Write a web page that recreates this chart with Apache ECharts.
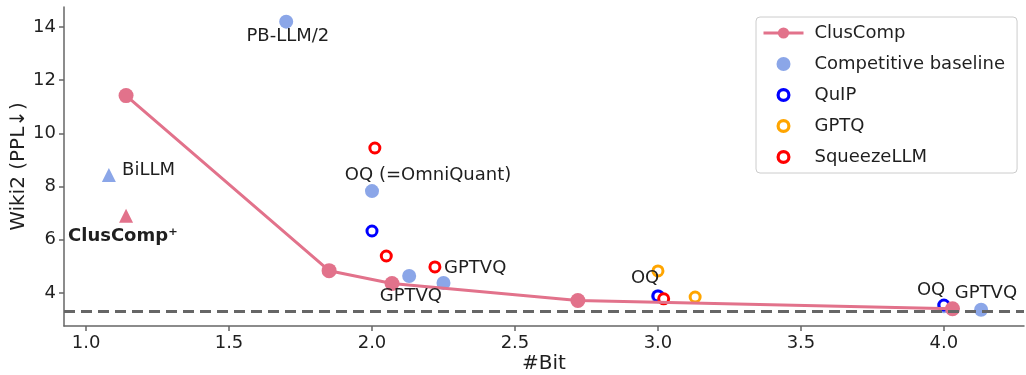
<!DOCTYPE html>
<html>
<head>
<meta charset="utf-8">
<script src="https://cdn.jsdelivr.net/npm/echarts@6/dist/echarts.min.js"></script>
<style>
  html, body { margin: 0; padding: 0; background: #ffffff; }
  #chart { width: 1026px; height: 375px; }
</style>
</head>
<body>
<div id="chart"></div>
<script>
// Bits per weight vs. WikiText-2 perplexity
const clusCompBits = [1.14, 1.85, 2.07, 2.72, 4.03];
const clusCompPpl  = [11.42, 4.84, 4.36, 3.72, 3.41];

const baselineBits = [1.70, 2.00, 2.13, 2.25, 3.00, 4.00, 4.13];
const baselinePpl  = [14.20, 7.83, 4.64, 4.38, 3.88, 3.50, 3.37];

const quipBits = [2.00, 3.00, 4.00];
const quipPpl  = [6.33, 3.89, 3.55];

const gptqBits = [3.00, 3.13];
const gptqPpl  = [4.83, 3.85];

const squeezeBits = [2.01, 2.05, 2.22, 3.02];
const squeezePpl  = [9.45, 5.39, 4.98, 3.78];

const billmPoint        = [1.08, 8.44];
const clusCompPlusPoint = [1.14, 6.90];

const fp16Ppl = 3.32;

const xTickValues = [1.0, 1.5, 2.0, 2.5, 3.0, 3.5, 4.0];
const yTickValues = [4, 6, 8, 10, 12, 14];

// method name, anchor bit, anchor ppl, alignment
const annotationText  = ['PB-LLM/2', 'BiLLM', 'ClusComp\u207A', 'OQ (=OmniQuant)', 'GPTVQ', 'GPTVQ', 'OQ', 'OQ', 'GPTVQ'];
const annotationBits  = [1.706, 1.126, 0.937, 2.196, 2.252, 2.136, 2.955, 3.955, 4.147];
const annotationPpl   = [13.66, 8.62, 6.14, 8.44, 4.94, 3.89, 4.56, 4.11, 4.00];
const annotationAlign = ['center', 'left', 'left', 'center', 'left', 'center', 'center', 'center', 'center'];
const annotationBold  = [false, false, true, false, false, false, false, false, false];

const PINK = '#e2728b';
const LIGHT_BLUE = '#8ba6e8';
const TEXT = '#1f1f1f';
const AXIS = '#666666';
const FONT = 'DejaVu Sans';

const zip = (xs, ys) => xs.map((x, i) => [x, ys[i]]);

// hollow ring marker: white fill, thick coloured edge
const ringIcon = 'path://M7,0 A7,7 0 1 1 6.99,0 Z M7,3.2 A3.8,3.8 0 1 0 7.01,3.2 Z';

const chart = echarts.init(document.getElementById('chart'), null, { renderer: 'canvas' });

const ringSeries = (name, xs, ys, color) => ({
  name: name,
  type: 'scatter',
  symbol: 'circle',
  symbolSize: 10,
  itemStyle: { color: '#ffffff', borderColor: color, borderWidth: 3, opacity: 1 },
  data: zip(xs, ys),
  z: 3
});

chart.setOption({
  animation: false,
  backgroundColor: '#ffffff',
  textStyle: { fontFamily: FONT },
  grid: { left: 64, right: 2, top: 7, bottom: 49, containLabel: false, outerBoundsMode: 'none' },
  xAxis: {
    type: 'value',
    min: 0.923,
    max: 4.28,
    name: '#Bit',
    nameLocation: 'middle',
    nameGap: 28,
    nameMoveOverlap: false,
    nameTextStyle: { fontSize: 20, color: TEXT, fontFamily: FONT },
    splitLine: { show: false },
    axisLine: { onZero: false, lineStyle: { color: AXIS, width: 1.5 } },
    axisTick: { show: true, length: 5, customValues: xTickValues, lineStyle: { color: AXIS, width: 1.5 } },
    axisLabel: { customValues: xTickValues, fontSize: 18, color: TEXT, margin: 8, fontFamily: FONT,
                 formatter: (v) => v.toFixed(1) }
  },
  yAxis: {
    type: 'value',
    min: 2.76,
    max: 14.75,
    name: 'Wiki2 (PPL\u2193)',
    nameLocation: 'middle',
    nameGap: 35,
    nameMoveOverlap: false,
    nameTextStyle: { fontSize: 20, color: TEXT, fontFamily: FONT },
    splitLine: { show: false },
    axisLine: { show: true, onZero: false, lineStyle: { color: AXIS, width: 1.5 } },
    axisTick: { show: true, length: 5, customValues: yTickValues, lineStyle: { color: AXIS, width: 1.5 } },
    axisLabel: { customValues: yTickValues, fontSize: 18, color: TEXT, margin: 8, fontFamily: FONT }
  },
  legend: {
    orient: 'vertical',
    left: 756,
    top: 17,
    itemWidth: 40,
    itemHeight: 14,
    itemGap: 13,
    padding: [7, 12, 7, 6],
    borderColor: '#cccccc',
    borderWidth: 1,
    borderRadius: 4,
    backgroundColor: 'rgba(255,255,255,0.85)',
    textStyle: { fontSize: 18, color: TEXT, fontFamily: FONT, padding: [0, 0, 0, 6] },
    data: [
      { name: 'ClusComp', itemStyle: { color: PINK, opacity: 1 }, lineStyle: { color: PINK, width: 3 } },
      { name: 'Competitive baseline', icon: 'circle', itemStyle: { opacity: 1 } },
      { name: 'QuIP', icon: ringIcon, itemStyle: { color: '#0000ff', borderWidth: 0, opacity: 1 } },
      { name: 'GPTQ', icon: ringIcon, itemStyle: { color: '#ffa500', borderWidth: 0, opacity: 1 } },
      { name: 'SqueezeLLM', icon: ringIcon, itemStyle: { color: '#ff0000', borderWidth: 0, opacity: 1 } }
    ]
  },
  series: [
    {
      name: 'Competitive baseline',
      type: 'scatter',
      symbol: 'circle',
      symbolSize: 14,
      itemStyle: { color: LIGHT_BLUE, opacity: 1 },
      data: zip(baselineBits, baselinePpl),
      z: 2
    },
    {
      name: 'BiLLM',
      type: 'scatter',
      symbol: 'triangle',
      symbolSize: 14,
      itemStyle: { color: LIGHT_BLUE, opacity: 1 },
      data: [billmPoint],
      z: 2
    },
    ringSeries('QuIP', quipBits, quipPpl, '#0000ff'),
    ringSeries('GPTQ', gptqBits, gptqPpl, '#ffa500'),
    ringSeries('SqueezeLLM', squeezeBits, squeezePpl, '#ff0000'),
    {
      name: 'ClusComp',
      type: 'line',
      symbol: 'circle',
      symbolSize: 15,
      showSymbol: true,
      lineStyle: { color: PINK, width: 3 },
      itemStyle: { color: PINK, opacity: 1 },
      data: zip(clusCompBits, clusCompPpl),
      z: 4,
      markLine: {
        silent: true,
        symbol: ['none', 'none'],
        label: { show: false },
        lineStyle: { color: AXIS, width: 3, type: [11, 6] },
        data: [{ yAxis: fp16Ppl }]
      }
    },
    {
      name: 'ClusComp+',
      type: 'scatter',
      symbol: 'triangle',
      symbolSize: 14,
      itemStyle: { color: PINK, opacity: 1 },
      data: [clusCompPlusPoint],
      z: 4
    },
    {
      name: 'labels',
      type: 'scatter',
      symbolSize: 0,
      silent: true,
      itemStyle: { opacity: 1 },
      z: 5,
      data: annotationText.map((t, i) => ({
        value: [annotationBits[i], annotationPpl[i]],
        label: {
          show: true,
          position: 'inside',
          formatter: t,
          align: annotationAlign[i],
          verticalAlign: 'middle',
          fontSize: 18,
          fontWeight: annotationBold[i] ? 'bold' : 'normal',
          color: TEXT,
          opacity: 1,
          fontFamily: FONT
        }
      }))
    }
  ]
});
</script>
</body>
</html>
